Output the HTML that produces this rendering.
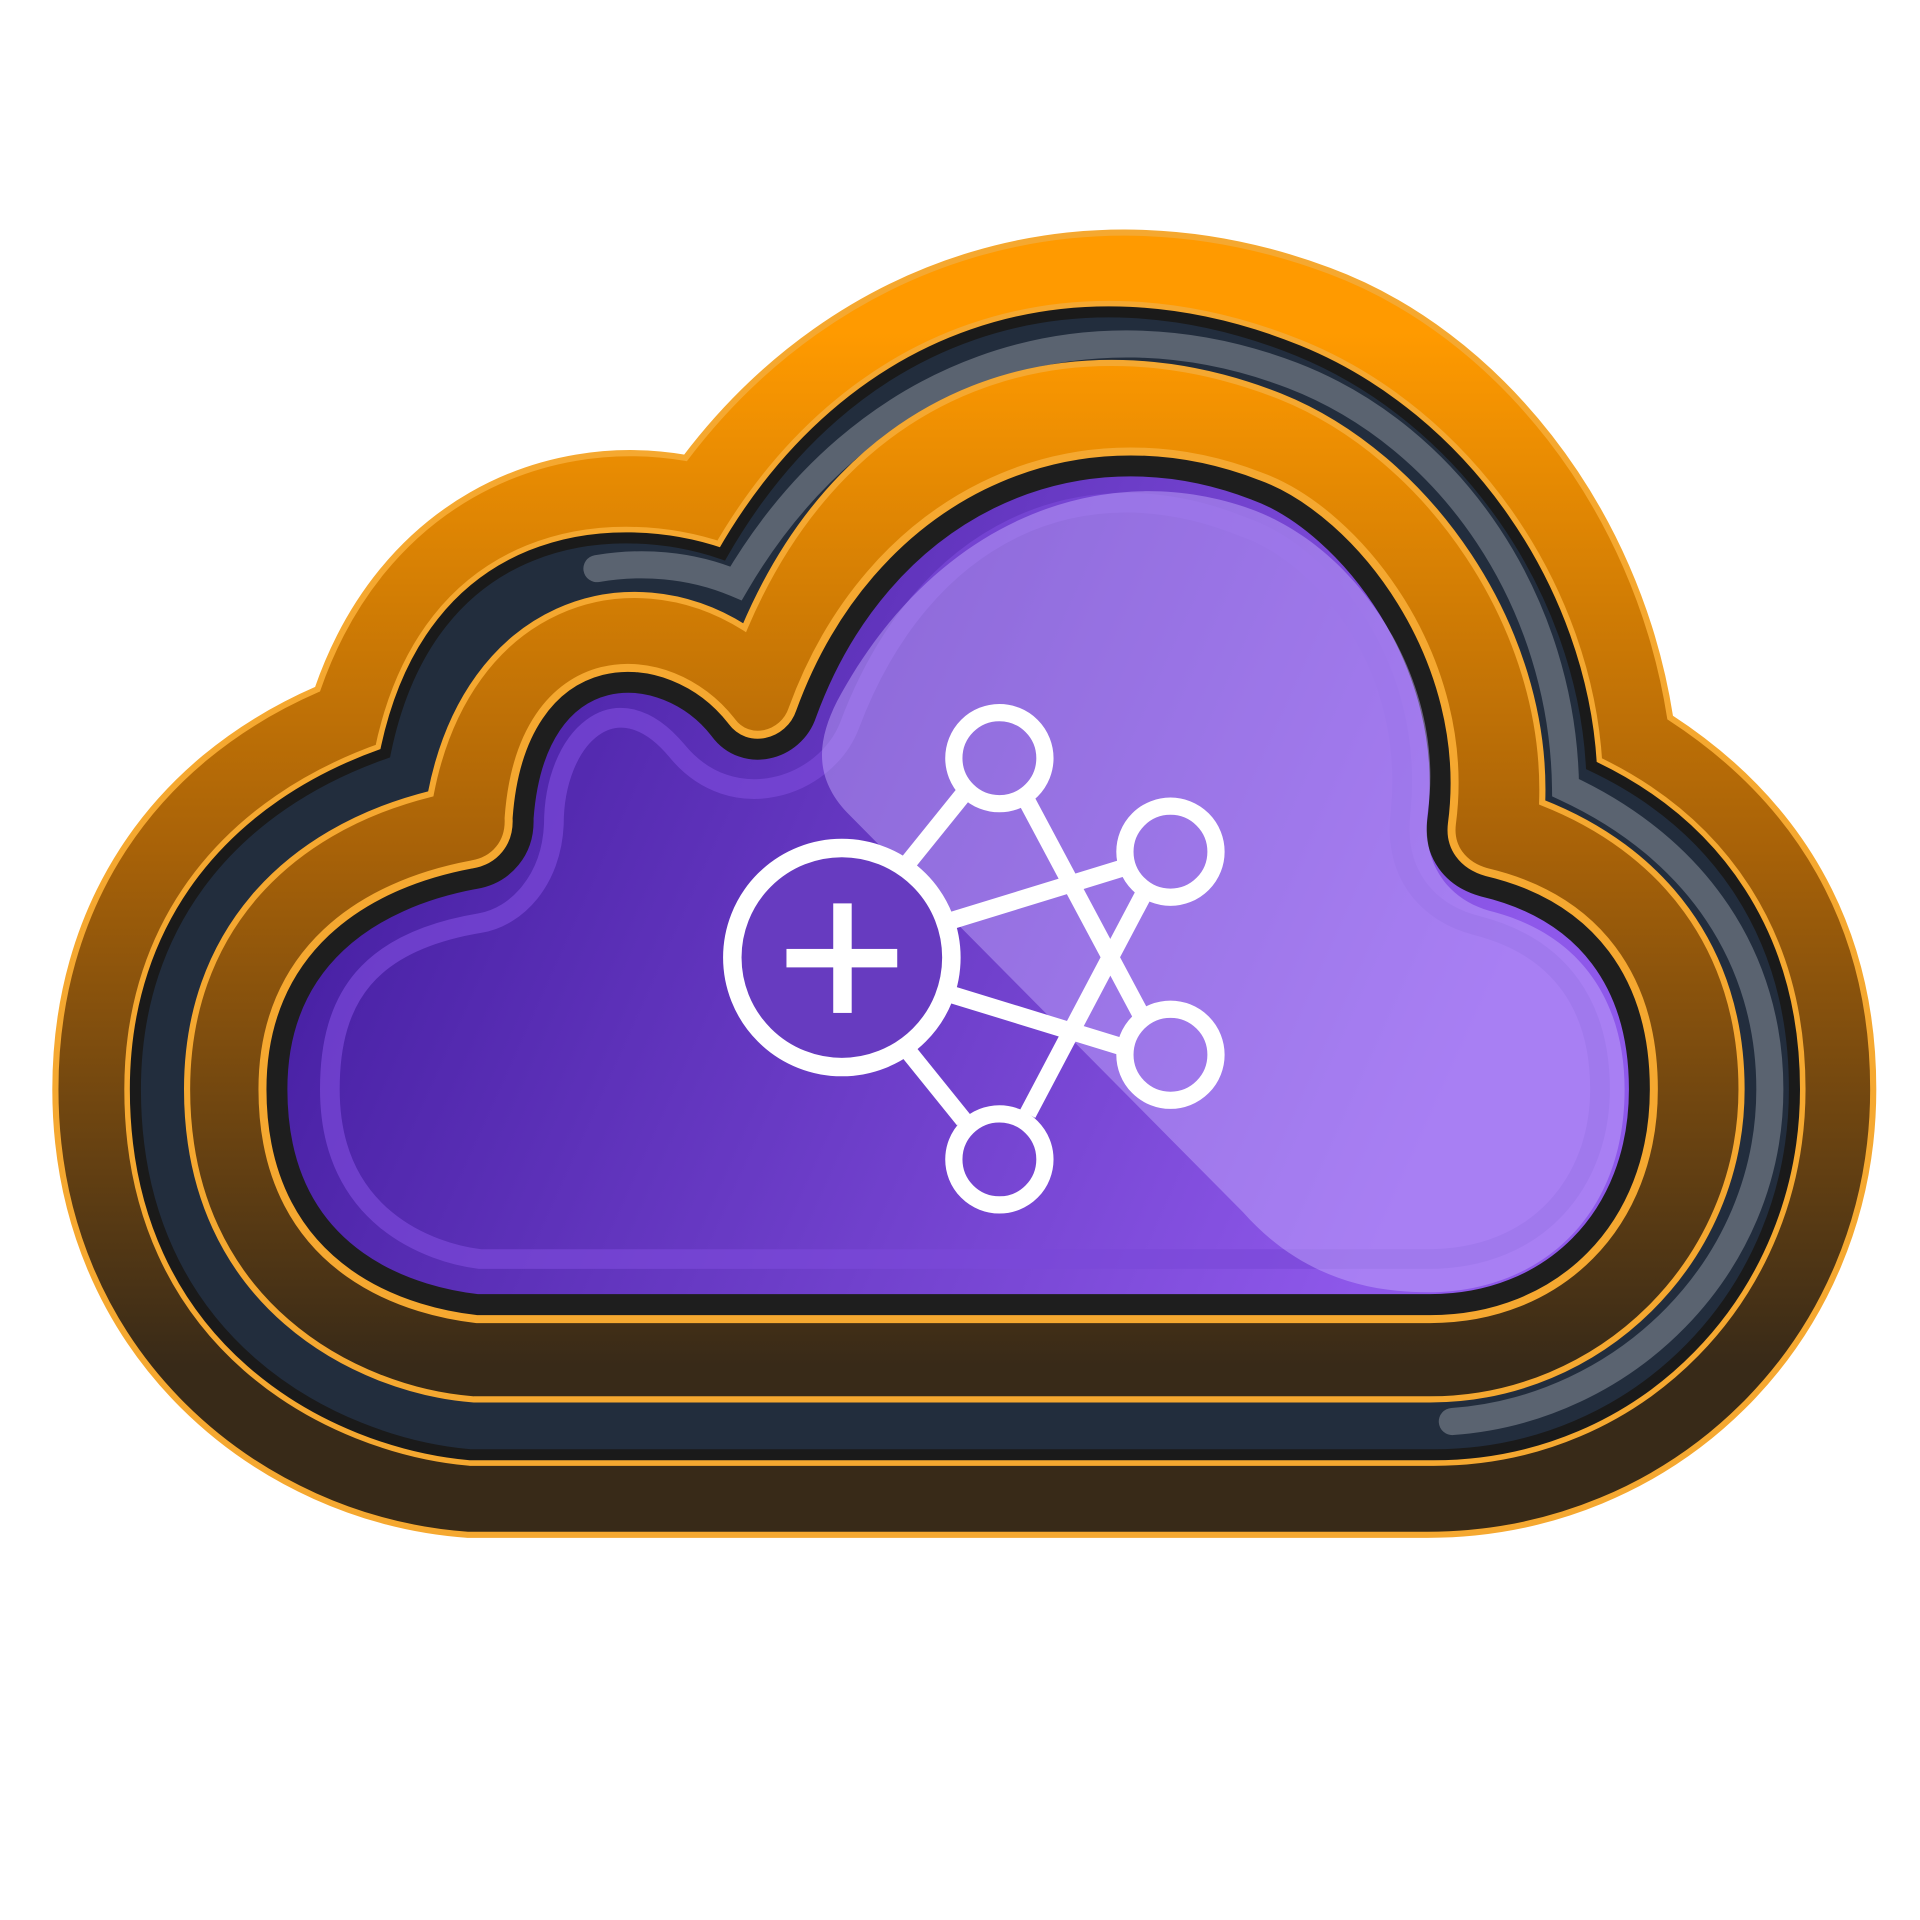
<!DOCTYPE html>
<html><head><style>html,body{margin:0;padding:0;background:#fff}svg{display:block}</style></head><body>
<svg width="1920" height="1920" viewBox="0 0 1560 1560" xmlns="http://www.w3.org/2000/svg">
<defs>
<linearGradient id="br" gradientUnits="userSpaceOnUse" x1="0" y1="270" x2="0" y2="1110">
<stop offset="0" stop-color="#ff9a00"/><stop offset="0.5" stop-color="#a86208"/><stop offset="1" stop-color="#382a18"/>
</linearGradient>
<linearGradient id="pu" gradientUnits="userSpaceOnUse" x1="300" y1="700" x2="1100" y2="1060">
<stop offset="0" stop-color="#4a22a6"/><stop offset="1" stop-color="#8e58ea"/>
</linearGradient>
<clipPath id="cc"><path id="cp" d="M388,1060 L1162,1060 C1260,1060 1332,990 1332,885 C1332,800 1290,740 1205,720 C1180,713 1165,693 1168,668 C1185,540 1095,425 1020,398 C870,340 715,415 655,580 C645,610 605,620 585,593 C540,535 435,530 425,665 C426,690 410,710 385,714 C300,730 225,780 225,885 C225,1030 345,1055 388,1060 Z"/></clipPath>
</defs>
<path d="M380,1247 L1160,1247 C1360,1247 1522,1090 1522,885 C1522,750 1460,650 1357,583 C1330,410 1215,270 1080,220 C880,145 680,210 557,372 C440,352 310,410 258,560 C120,620 45,740 45,885 C45,1100 210,1235 380,1247 Z" fill="url(#br)" stroke="#f5a830" stroke-width="5"/>
<path d="M382,1182 L1165,1182 C1330,1182 1458,1050 1458,885 C1458,760 1395,670 1293,622 C1285,480 1190,340 1055,285 C870,210 690,270 587,450 C500,420 350,430 313,612 C190,655 110,750 110,885 C110,1090 270,1172 382,1182 Z" fill="none" stroke="#f5a830" stroke-width="18"/>
<path d="M382,1182 L1165,1182 C1330,1182 1458,1050 1458,885 C1458,760 1395,670 1293,622 C1285,480 1190,340 1055,285 C870,210 690,270 587,450 C500,420 350,430 313,612 C190,655 110,750 110,885 C110,1090 270,1172 382,1182 Z" fill="#222d3d" stroke="#1a1a1a" stroke-width="9"/>
<path d="M485,462 C520,456 560,458 598,474 C700,300 880,240 1050,305 C1180,355 1270,490 1272,640 C1380,690 1438,780 1438,885 C1438,1030 1320,1145 1180,1155" fill="none" stroke="#5a6370" stroke-width="22" stroke-linecap="round"/>
<path d="M385,1137 L1162,1137 C1300,1137 1415,1025 1415,885 C1415,770 1350,690 1253,652 C1258,510 1160,370 1040,322 C870,255 690,310 605,510 C510,450 380,490 350,645 C230,675 152,760 152,885 C152,1060 290,1130 385,1137 Z" fill="url(#br)" stroke="#f5a830" stroke-width="5"/>
<use href="#cp" fill="none" stroke="#f5a830" stroke-width="30"/>
<use href="#cp" fill="url(#pu)" stroke="#1e1e1e" stroke-width="17"/>
<g clip-path="url(#cc)">
<path d="M390,1023 L1160,1023 C1250,1023 1300,960 1300,885 C1300,820 1270,770 1200,752 C1160,742 1132,710 1138,660 C1150,540 1075,450 1010,428 C880,375 750,430 690,590 C670,640 595,665 550,610 C500,550 450,600 450,670 C448,715 420,745 390,750 C300,765 268,810 268,885 C268,990 350,1018 390,1023 Z" fill="none" stroke="#7a48d8" stroke-width="16" opacity="0.7"/>
<path d="M688,660 C660,630 665,600 680,570 C760,420 900,370 1020,415 C1110,450 1175,560 1160,660 C1155,700 1175,730 1210,740 C1290,760 1320,820 1320,885 C1320,990 1250,1050 1160,1050 C1100,1050 1050,1030 1010,985 Z" fill="#c8b0ff" opacity="0.45"/>
</g>
<g stroke="#fff" stroke-width="14" fill="none">
<line x1="737" y1="702" x2="783" y2="645"/>
<line x1="737" y1="853" x2="783" y2="910"/>
<line x1="773" y1="748" x2="913" y2="705"/>
<line x1="773" y1="808" x2="913" y2="851"/>
<line x1="835" y1="652" x2="930" y2="830"/>
<line x1="835" y1="905" x2="930" y2="725"/>
<circle cx="812" cy="616" r="37"/>
<circle cx="951" cy="692" r="37"/>
<circle cx="951" cy="857" r="37"/>
<circle cx="812" cy="942" r="37"/>
<circle cx="684" cy="778" r="89" fill="#673bc0" stroke-width="15"/>
</g>
<rect x="677" y="734" width="15" height="89" fill="#fff"/>
<rect x="639" y="771" width="90" height="15" fill="#fff"/>
</svg>
</body></html>
